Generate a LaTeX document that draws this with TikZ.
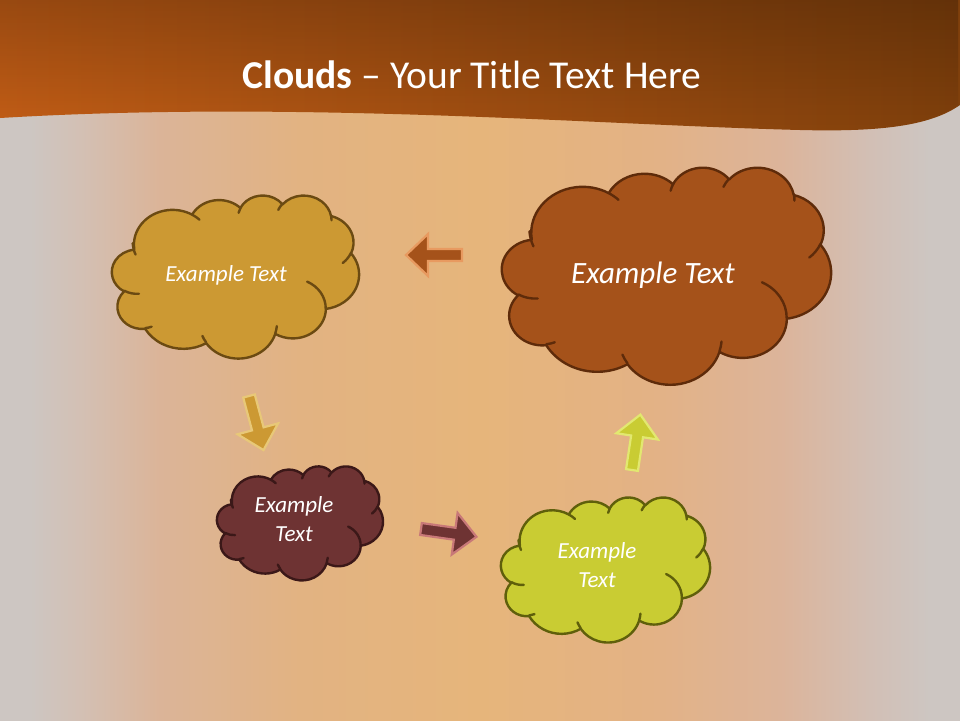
\documentclass[tikz,border=0pt]{standalone}
\usepackage{fontspec}
\setmainfont{Carlito}
\usetikzlibrary{fadings}
\definecolor{bggray}{HTML}{CDC6C2}
\definecolor{bgc1}{HTML}{D3C0B4}
\definecolor{bgc2}{HTML}{DBB498}
\definecolor{bgc3}{HTML}{E2B382}
\definecolor{bgc4}{HTML}{E6B57B}
\definecolor{bgc5}{HTML}{E3B285}
\definecolor{bgc6}{HTML}{DCB49A}
\definecolor{bgc7}{HTML}{D2BFB5}
\definecolor{hdleft}{HTML}{C45E16}
\definecolor{hdright}{HTML}{80400C}
\definecolor{cAfill}{HTML}{CC9933}
\definecolor{cAline}{HTML}{6B4A12}
\definecolor{cBfill}{HTML}{A5521A}
\definecolor{cBline}{HTML}{5E2B0A}
\definecolor{cCfill}{HTML}{6E3333}
\definecolor{cCline}{HTML}{3B1818}
\definecolor{cDfill}{HTML}{C9CC33}
\definecolor{cDline}{HTML}{5F5F0B}
\definecolor{aAline}{HTML}{E89A60}
\definecolor{aBline}{HTML}{E8C878}
\definecolor{aCline}{HTML}{C87878}
\definecolor{aDline}{HTML}{E2E870}
\pgfdeclarehorizontalshading{bgshade}{100bp}{color(0bp)=(bggray); color(26.56bp)=(bggray);
  color(29.17bp)=(bgc1); color(33.33bp)=(bgc2); color(40.63bp)=(bgc3); color(50bp)=(bgc4);
  color(58.85bp)=(bgc5); color(65.63bp)=(bgc6); color(70.31bp)=(bgc7); color(73.44bp)=(bggray); color(100bp)=(bggray)}
% one arc of a DrawingML arcTo: wR hR stAng swAng (angles in degrees, geometric)
\newcommand\ooarc[4]{%
  \pgfmathsetmacro\oost{#3}%
  \pgfmathsetmacro\ooen{#3+#4}%
  \pgfmathsetmacro\ooa{atan2(#1*sin(\oost),#2*cos(\oost))}%
  \pgfmathsetmacro\oob{atan2(#1*sin(\ooen),#2*cos(\ooen))}%
  \pgfmathsetmacro\ood{\oob-\ooa-(#4)}%
  \pgfmathsetmacro\oodn{mod(\ood+900,360)-180}%
  \pgfmathsetmacro\oob{\ooa+(#4)+\oodn}%
  \pgfpatharc{\ooa}{\oob}{#1pt and #2pt}}
\newcommand\oomove[2]{\pgfpathmoveto{\pgfpoint{#1pt}{#2pt}}}
% cloud: x y (top left, image px) w h fill line
\newcommand\pptcloud[6]{%
  \begin{pgfscope}
    \pgfmathsetmacro\ooxs{#3/432}\pgfmathsetmacro\ooys{-#4/432}%
    \pgftransformshift{\pgfpoint{#1pt}{-#2pt}}%
    \pgftransformxscale{\ooxs}\pgftransformyscale{\ooys}%
    \pgfsetfillcolor{#5}\pgfsetstrokecolor{#6}\pgfsetlinewidth{2.4pt}\pgfsetroundjoin\pgfsetroundcap
    \oomove{39}{143.70}%
    \ooarc{67.53}{91.90}{-190.4875}{123.7805}%
    \ooarc{53.33}{72.67}{-144.1024}{89.9452}%
    \ooarc{43.65}{59.45}{-145.8079}{99.7230}%
    \ooarc{48.57}{65.95}{-130.9861}{117.2417}%
    \ooarc{53.33}{72.73}{-78.7089}{109.0269}%
    \ooarc{67.75}{92.20}{-46.2673}{130.2690}%
    \ooarc{57.85}{78.67}{0.6250}{114.0333}%
    \ooarc{67.52}{92.15}{22.4516}{115.1726}%
    \ooarc{77.20}{105.43}{66.2426}{75.7110}%
    \ooarc{43.60}{59.18}{-274.9421}{146.7356}%
    \ooarc{43.45}{59.45}{-246.8285}{152.5189}%
    \pgfpathclose
    \pgfusepath{fill,stroke}%
    \oomove{46.93}{261.77}\ooarc{43.45}{59.45}{86.7420}{26.4295}%
    \oomove{69.28}{348.99}\ooarc{43.60}{59.18}{73.6105}{11.4475}%
    \oomove{164.78}{390.90}\ooarc{67.52}{92.15}{137.6242}{14.0811}%
    \oomove{288.27}{347.51}\ooarc{67.52}{92.15}{6.4533}{15.9984}%
    \oomove{341.29}{229.54}\ooarc{57.85}{78.67}{-70.2924}{70.9174}%
    \oomove{417.98}{153.54}\ooarc{53.33}{72.73}{30.3180}{27.7515}%
    \oomove{383.24}{54.26}\ooarc{48.57}{65.95}{-13.7443}{14.8589}%
    \oomove{290.78}{39.52}\ooarc{48.57}{65.95}{-149.1815}{18.1954}%
    \oomove{221.41}{47.20}\ooarc{43.65}{59.45}{-163.4943}{17.6864}%
    \oomove{140.00}{51.92}\ooarc{67.53}{91.90}{-66.7070}{12.3194}%
    \oomove{41.27}{157.89}\ooarc{67.53}{91.90}{150.0}{24.8899}%
    \pgfusepath{stroke}%
  \end{pgfscope}}
\tikzset{
  cloudtext/.style={text=white, font=\fontsize{23}{29}\selectfont\itshape, align=center, inner sep=0pt},
  bigtext/.style={text=white, font=\fontsize{31}{37}\selectfont\itshape, align=center, inner sep=0pt},
  arrowline/.style={line width=2.2pt, line join=miter},
}
% block arrow: name, tail x, tail y, rotation, fill, line
\newcommand\blockarrow[6]{%
  \begin{scope}[shift={(#2,#3)}, rotate=#4]
    \draw[arrowline, fill=#5, draw=#6] (0,-6) -- (34,-6) -- (34,-21) -- (56,0) -- (34,21) -- (34,6) -- (0,6) -- cycle;
    \coordinate (#1) at (28,0);
  \end{scope}}
\begin{document}
\begin{tikzpicture}[x=1pt,y=-1pt]
\useasboundingbox (0,0) rectangle (960,720);
\fill[bggray] (0,0) rectangle (960,720);
\shade[shading=bgshade] (0,0) rectangle (960,720);
% header band
\def\headerpath{(0,0) -- (960,0) -- (960,105) .. controls (930,126) and (880,132) .. (800,130)
  .. controls (600,125) and (300,100) .. (0,118) -- cycle}
\shade[left color=hdleft, right color=hdright] \headerpath;
\fill[black, opacity=0.22, path fading=south] \headerpath;
\node[text=white, font=\fontsize{39.5}{45}\selectfont, anchor=base, inner sep=0pt] (title) at (472,88)
  {\textbf{Clouds} – Your Title Text Here};
% clouds
\pptcloud{112}{195}{247}{163}{cAfill}{cAline}
\pptcloud{502}{167}{329}{217}{cBfill}{cBline}
\pptcloud{217}{466}{166}{114}{cCfill}{cCline}
\pptcloud{501}{497}{209}{145}{cDfill}{cDline}
\node[cloudtext] (t1) at (226,275) {Example Text};
\node[bigtext] (t2) at (653,275) {Example Text};
\node[cloudtext] (t3) at (294,519) {Example\\Text};
\node[cloudtext] (t4) at (597,565) {Example\\Text};
% arrows
\blockarrow{a1}{462}{255}{180}{cBfill}{aAline}
\blockarrow{a2}{249}{396}{-75}{cAfill}{aBline}
\blockarrow{a3}{421}{529}{-8}{cCfill}{aCline}
\blockarrow{a4}{632}{470}{81.4}{cDfill}{aDline}
\end{tikzpicture}
\end{document}
